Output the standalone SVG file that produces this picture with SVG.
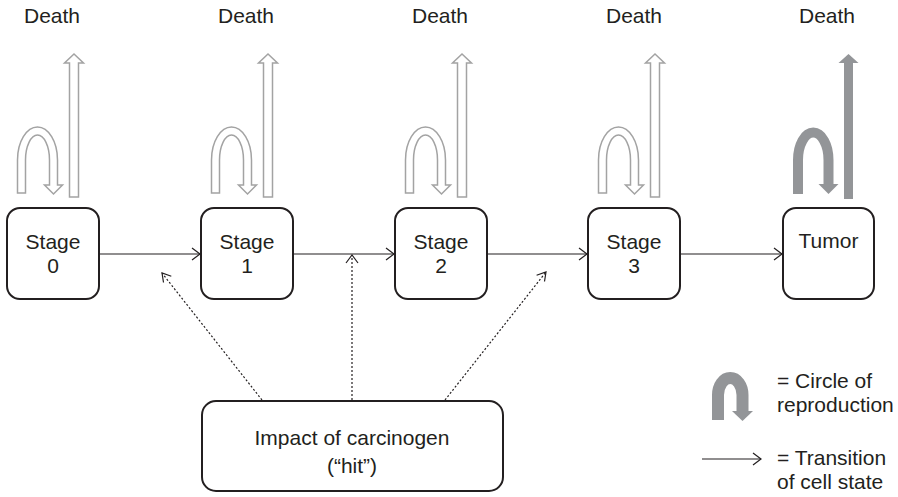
<svg xmlns="http://www.w3.org/2000/svg" width="898" height="497" viewBox="0 0 898 497">
  <defs>
    <style>
      .lbl { font-family: "Liberation Sans", Arial, sans-serif; font-size: 21px; fill: #231f20; }
      .mid { text-anchor: middle; }
      .box { fill: #ffffff; stroke: #231f20; stroke-width: 2; }
      .hollow { fill: #ffffff; stroke: #a3a3a3; stroke-width: 1.5; stroke-linejoin: miter; }
      .solid { fill: none; stroke: #939598; }
      .solidfill { fill: #939598; stroke: none; }
      .flow { fill: none; stroke: #231f20; stroke-width: 1.2; }
      .hit { fill: none; stroke: #231f20; stroke-width: 1.2; stroke-dasharray: 2 2; }
      .head { fill: none; stroke: #231f20; stroke-width: 1.2; }
    </style>
    <!-- hollow reproduction loop, origin at box top-left -->
    <path id="loopHollow" class="hollow"
      d="M10.5,-15 V-48 A20,33 0 0 1 50.5,-48 V-23 H55.5 L46.5,-14 L37.5,-23 H42.5 V-48 A12,25 0 0 0 18.5,-48 V-15 Z"/>
    <!-- hollow death arrow -->
    <path id="deathHollow" class="hollow"
      d="M62.5,-11 V-145 H57.5 L67,-154 L76.5,-145 H71.5 V-11 Z"/>
  </defs>

  <!-- death labels -->
  <g id="death-labels">
    <text class="lbl mid" x="52" y="23">Death</text>
    <text class="lbl mid" x="246" y="23">Death</text>
    <text class="lbl mid" x="440" y="23">Death</text>
    <text class="lbl mid" x="634" y="23">Death</text>
    <text class="lbl mid" x="827" y="23">Death</text>
  </g>

  <!-- stage nodes -->
  <g id="stage0" transform="translate(7,208)">
    <use href="#loopHollow"/>
    <use href="#deathHollow"/>
    <rect class="box" x="0" y="0" width="92" height="91" rx="13"/>
    <text class="lbl mid" x="46" y="41">Stage</text>
    <text class="lbl mid" x="46" y="65">0</text>
  </g>
  <g id="stage1" transform="translate(201,208)">
    <use href="#loopHollow"/>
    <use href="#deathHollow"/>
    <rect class="box" x="0" y="0" width="92" height="91" rx="13"/>
    <text class="lbl mid" x="46" y="41">Stage</text>
    <text class="lbl mid" x="46" y="65">1</text>
  </g>
  <g id="stage2" transform="translate(395,208)">
    <use href="#loopHollow"/>
    <use href="#deathHollow"/>
    <rect class="box" x="0" y="0" width="92" height="91" rx="13"/>
    <text class="lbl mid" x="46" y="41">Stage</text>
    <text class="lbl mid" x="46" y="65">2</text>
  </g>
  <g id="stage3" transform="translate(588,208)">
    <use href="#loopHollow"/>
    <use href="#deathHollow"/>
    <rect class="box" x="0" y="0" width="92" height="91" rx="13"/>
    <text class="lbl mid" x="46" y="41">Stage</text>
    <text class="lbl mid" x="46" y="65">3</text>
  </g>
  <g id="tumor" transform="translate(783,208)">
    <path class="solid" stroke-width="10" d="M15,-14 V-48 A15,27 0 0 1 45.5,-48 V-24"/>
    <polygon class="solidfill" points="35.5,-24 55.5,-24 45.5,-14"/>
    <line class="solid" stroke-width="9" x1="65.5" y1="-9" x2="65.5" y2="-146"/>
    <polygon class="solidfill" points="55.5,-145 65.5,-154 75.5,-145"/>
    <rect class="box" x="0" y="0" width="91" height="91" rx="13"/>
    <text class="lbl mid" x="45.5" y="40">Tumor</text>
  </g>

  <!-- carcinogen node -->
  <g id="carcinogen">
    <rect class="box" x="202" y="401" width="301" height="90" rx="14"/>
    <text class="lbl mid" x="352" y="445">Impact of carcinogen</text>
    <text class="lbl mid" x="352" y="473">(“hit”)</text>
  </g>

  <!-- connectors -->
  <g id="connectors">
    <line class="flow" x1="99" y1="254" x2="200" y2="254"/>
    <polyline class="head" points="192,248 200,254 192,260"/>
    <line class="flow" x1="293" y1="254" x2="394" y2="254"/>
    <polyline class="head" points="386,248 394,254 386,260"/>
    <line class="flow" x1="487" y1="254" x2="587" y2="254"/>
    <polyline class="head" points="579,248 587,254 579,260"/>
    <line class="flow" x1="680" y1="254" x2="782" y2="254"/>
    <polyline class="head" points="774,248 782,254 774,260"/>

    <line class="hit" x1="262" y1="400" x2="162" y2="273"/>
    <polyline class="head" points="163.5,282.5 162,273 171.3,276.3"/>
    <line class="hit" x1="352" y1="400" x2="352" y2="255"/>
    <polyline class="head" points="346,263 352,255 358,263"/>
    <line class="hit" x1="445" y1="400" x2="546" y2="272"/>
    <polyline class="head" points="536.6,275.3 546,272 544.5,281.5"/>
  </g>

  <!-- legend -->
  <g id="legend">
    <path class="solid" stroke-width="12" d="M718,420 V395 A12.25,17 0 0 1 742.5,395 V411"/>
    <polygon class="solidfill" points="732,411 753,411 742.5,421"/>
    <text class="lbl" x="777" y="388">= Circle of</text>
    <text class="lbl" x="777" y="412">reproduction</text>
    <line class="flow" x1="702" y1="459" x2="761" y2="459"/>
    <polyline class="head" points="753,453 761,459 753,465"/>
    <text class="lbl" x="777" y="465">= Transition</text>
    <text class="lbl" x="777" y="489">of cell state</text>
  </g>
</svg>
